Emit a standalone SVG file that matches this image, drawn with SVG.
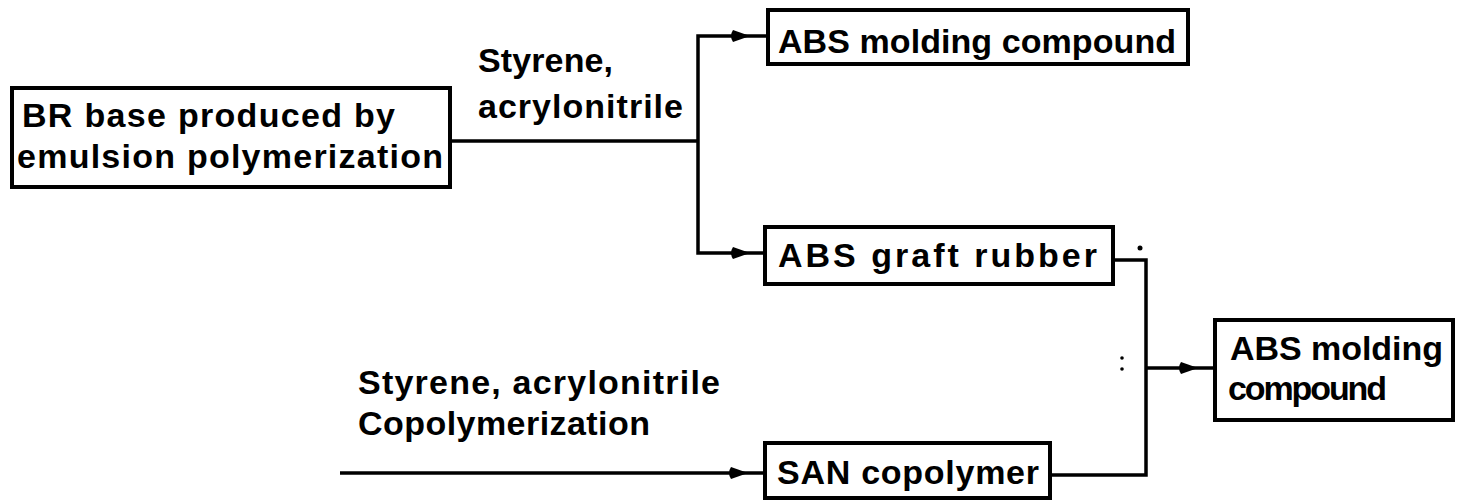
<svg xmlns="http://www.w3.org/2000/svg" width="1457" height="501" viewBox="0 0 1457 501">
<style>
.box{fill:#fff;stroke:#000;stroke-width:4}
.ln{fill:none;stroke:#000;stroke-width:3.5;stroke-linejoin:miter}
.t{font-family:"Liberation Sans",Arial,sans-serif;font-weight:bold;font-size:34px;fill:#000}
</style>
<defs>
<path id="ah" d="M0,0 L-17,-6 Q-21,0 -17,6 Z" fill="#000"/>
</defs>
<rect width="1457" height="501" fill="#fff"/>
<g id="connectors">
<path class="ln" d="M450,141 H698"/>
<path class="ln" d="M768,36 H698 V253 H766"/>
<use href="#ah" x="750" y="36"/>
<use href="#ah" x="750" y="253"/>
<path class="ln" d="M340,473 H765"/>
<use href="#ah" x="748" y="473"/>
<path class="ln" d="M1113,260 H1146 V475 H1050"/>
<path class="ln" d="M1146,368 H1215"/>
<use href="#ah" x="1198" y="368"/>
<text class="t" x="478" y="72" textLength="135" lengthAdjust="spacing">Styrene,</text>
<text class="t" x="478" y="118" textLength="205" lengthAdjust="spacing">acrylonitrile</text>
<text class="t" x="358" y="394" textLength="362" lengthAdjust="spacing">Styrene, acrylonitrile</text>
<text class="t" x="358" y="435" textLength="292" lengthAdjust="spacing">Copolymerization</text>
<circle cx="1140" cy="248" r="2.5"/>
<circle cx="1122" cy="358" r="1.8"/>
<circle cx="1122" cy="369" r="1.8"/>
</g>
<g id="n1">
<rect class="box" x="12" y="88" width="438" height="99"/>
<text class="t" x="22" y="127" textLength="373" lengthAdjust="spacing">BR base produced by</text>
<text class="t" x="17" y="168" textLength="426" lengthAdjust="spacing">emulsion polymerization</text>
</g>
<g id="n2">
<rect class="box" x="768" y="10" width="420" height="54"/>
<text class="t" x="778" y="53" textLength="398" lengthAdjust="spacing">ABS molding compound</text>
</g>
<g id="n3">
<rect class="box" x="765" y="227" width="348" height="57"/>
<text class="t" x="778" y="267" textLength="319" lengthAdjust="spacing">ABS graft rubber</text>
</g>
<g id="n4">
<rect class="box" x="1215" y="320" width="238" height="100"/>
<text class="t" x="1230" y="360" textLength="213" lengthAdjust="spacing">ABS molding</text>
<text class="t" x="1228" y="400" textLength="159" lengthAdjust="spacing">compound</text>
</g>
<g id="n5">
<rect class="box" x="765" y="443" width="285" height="55"/>
<text class="t" x="777" y="484" textLength="262" lengthAdjust="spacing">SAN copolymer</text>
</g>
</svg>
